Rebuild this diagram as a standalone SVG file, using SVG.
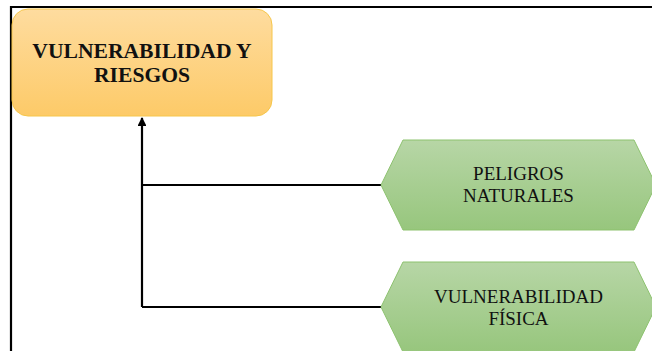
<svg xmlns="http://www.w3.org/2000/svg" width="652" height="351" viewBox="0 0 652 351">
<style>
.frame{fill:none;stroke:#000;stroke-width:2.2}
.conn{fill:none;stroke:#000;stroke-width:2.2}
.hex{fill:url(#gG);stroke:#8dc26f;stroke-width:1}
.t1{font-family:"Liberation Serif",serif;font-weight:bold;font-size:21.6px;fill:#111;text-anchor:middle}
.t2{font-family:"Liberation Serif",serif;font-size:19px;fill:#111;text-anchor:middle}
</style>
<defs>
<linearGradient id="gO" x1="0" y1="0" x2="0" y2="1">
<stop offset="0" stop-color="#fedc9f"/>
<stop offset="1" stop-color="#fdca68"/>
</linearGradient>
<linearGradient id="gG" x1="0" y1="0" x2="0" y2="1">
<stop offset="0" stop-color="#b7d6a6"/>
<stop offset="1" stop-color="#97c67d"/>
</linearGradient>
<marker id="arr" viewBox="0 0 10 10" refX="9" refY="5" markerWidth="4" markerHeight="4" orient="auto" markerUnits="strokeWidth">
<path d="M0,0 L10,5 L0,10 z" fill="#000"/>
</marker>
</defs>
<rect width="652" height="351" fill="#fff"/>
<path class="frame" d="M11,351 V7 H652"/>
<g id="connectors">
<path class="conn" d="M142,307 V118" marker-end="url(#arr)"/>
<path class="conn" d="M142,185 H381"/>
<path class="conn" d="M142,307 H381"/>
</g>
<g id="node-vulnerabilidad-riesgos">
<rect x="12" y="9" width="260" height="107" rx="16" ry="16" fill="url(#gO)" stroke="#f6c64a" stroke-width="1"/>
<text class="t1" x="142" y="58">VULNERABILIDAD Y</text>
<text class="t1" x="142" y="82">RIESGOS</text>
</g>
<g id="node-peligros">
<polygon class="hex" points="381,185 403,140 634,140 656,185 634,230 403,230"/>
<text class="t2" x="518.5" y="180">PELIGROS</text>
<text class="t2" x="518.5" y="202">NATURALES</text>
</g>
<g id="node-vulnerabilidad-fisica">
<polygon class="hex" points="381,307 403,262 634,262 656,307 634,352 403,352"/>
<text class="t2" x="518.5" y="303">VULNERABILIDAD</text>
<text class="t2" x="518.5" y="325">FÍSICA</text>
</g>
</svg>
